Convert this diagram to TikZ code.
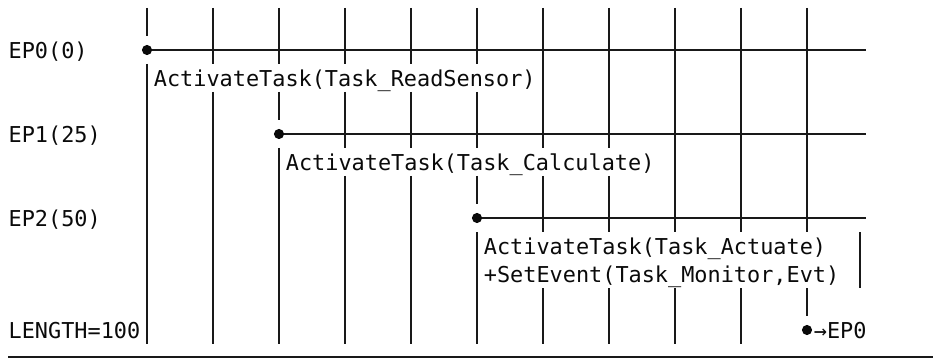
\documentclass[tikz,border=0pt]{standalone}
\usepackage{fontspec}
\setmonofont{DejaVu Sans Mono}
\usepackage{tikz}

\tikzset{
  grid line/.style={color={rgb, 255:red, 25; green, 25; blue, 25 }, line width=1.4pt},
  ep dot/.style={circle, fill={rgb, 255:red, 10; green, 10; blue, 10 }, inner sep=0pt, minimum size=7.6pt},
  mono text/.style={anchor=base west, inner sep=0pt, text={rgb, 255:red, 10; green, 10; blue, 10 }, font=\ttfamily\fontsize{16.4}{20}\selectfont}
}

\begin{document}
\begin{tikzpicture}[x=0.75pt,y=0.75pt,yscale=-1,xscale=1]
\path[use as bounding box] (0,0) rectangle (933,360);

%Shape: Dots [id:ep0, ep1, ep2, length]
\node [ep dot] (ep0) at (147,50) {};
\node [ep dot] (ep1) at (279,134) {};
\node [ep dot] (ep2) at (477,218) {};
\node [ep dot] (len) at (807,330) {};

%Straight Lines [id:ep rows]
\coordinate (ep0end) at (866.4,50);
\coordinate (ep1end) at (866.4,134);
\coordinate (ep2end) at (866.4,218);
\draw [grid line] (ep0) -- (ep0end) ;
\draw [grid line] (ep1) -- (ep1end) ;
\draw [grid line] (ep2) -- (ep2end) ;

%Straight Lines [id:columns]
\draw [grid line] (147,8) -- (147,36) (147,64) -- (147,344) ;
\draw [grid line] (213,8) -- (213,64) (213,92) -- (213,344) ;
\draw [grid line] (279,8) -- (279,64) (279,92) -- (279,120) (279,148) -- (279,344) ;
\foreach \cx in {345,411}
  \draw [grid line] (\cx,8) -- (\cx,64) (\cx,92) -- (\cx,148) (\cx,176) -- (\cx,344) ;
\draw [grid line] (477,8) -- (477,64) (477,92) -- (477,148) (477,176) -- (477,204) (477,232) -- (477,344) ;
\foreach \cx in {543,609}
  \draw [grid line] (\cx,8) -- (\cx,148) (\cx,176) -- (\cx,232) (\cx,288) -- (\cx,344) ;
\foreach \cx in {675,741}
  \draw [grid line] (\cx,8) -- (\cx,232) (\cx,288) -- (\cx,344) ;
\draw [grid line] (807,8) -- (807,232) (807,288) -- (807,316) ;
\draw [grid line] (859.8,232) -- (859.8,288) ;

%Straight Lines [id:bottom rule]
\coordinate (rulestart) at (8.4,357);
\coordinate (ruleend) at (933,357);
\draw [grid line] (rulestart) -- (ruleend) ;

% Text Node
\node [mono text] (ep0lbl) at (8.4,58.5) {EP0(0)};
% Text Node
\node [mono text] (act0) at (153.6,86.5) {ActivateTask(Task\_ReadSensor)};
% Text Node
\node [mono text] (ep1lbl) at (8.4,142.5) {EP1(25)};
% Text Node
\node [mono text] (act1) at (285.6,170.5) {ActivateTask(Task\_Calculate)};
% Text Node
\node [mono text] (ep2lbl) at (8.4,226.5) {EP2(50)};
% Text Node
\node [mono text] (act2) at (483.6,254.5) {ActivateTask(Task\_Actuate)};
% Text Node
\node [mono text] (setev) at (483.6,282.5) {+SetEvent(Task\_Monitor,Evt)};
% Text Node
\node [mono text] (lenlbl) at (8.4,338.5) {LENGTH=100};
% Text Node
\node [mono text] (backlbl) at (813.6,338.5) {→EP0};

\end{tikzpicture}
\end{document}
